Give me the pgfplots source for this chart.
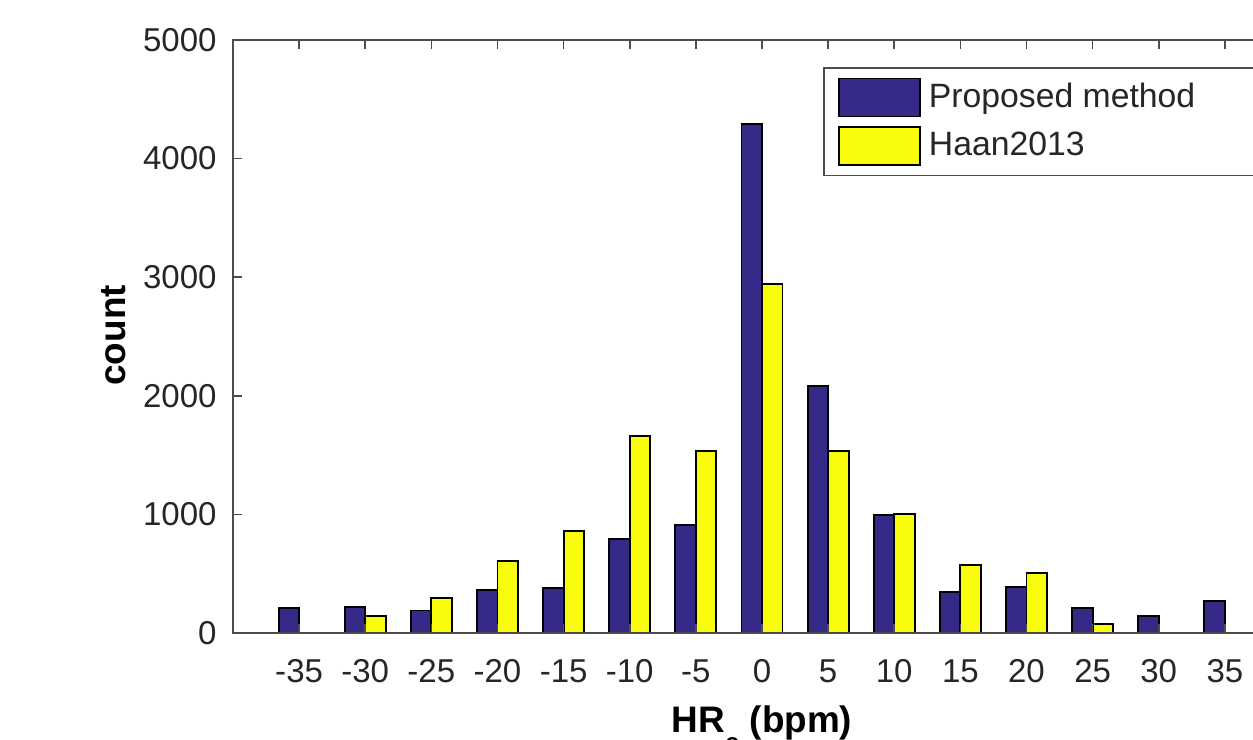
\documentclass[border=0pt]{standalone}
\usepackage{pgfplots}
\pgfplotsset{compat=1.18}
\usepackage{fontspec}
\setmainfont{Liberation Sans}
\definecolor{pblue}{HTML}{352A87}
\definecolor{pyellow}{HTML}{F9FB0E}
\definecolor{axgray}{gray}{0.3}
\definecolor{txgray}{gray}{0.15}
\begin{document}
\begin{tikzpicture}
\useasboundingbox (0,0) rectangle (12.53,7.40);
\clip (0,0) rectangle (12.53,7.40);
\begin{axis}[
  at={(2.33cm,1.07cm)}, anchor=south west,
  width=10.58cm, height=5.93cm, scale only axis,
  xmin=-40, xmax=40, ymin=0, ymax=5000,
  ybar, bar width=1.55,
  axis on top,
  tick align=inside,
  major tick length=0.09cm,
  axis line style={axgray, line width=0.45pt},
  every tick/.style={axgray, line width=0.45pt},
  xtick={-35,-30,-25,-20,-15,-10,-5,0,5,10,15,20,25,30,35},
  xticklabels={{-35},{-30},{-25},{-20},{-15},{-10},{-5},{0},{5},{10},{15},{20},{25},{30},{35}},
  ytick={0,1000,2000,3000,4000,5000},
  scaled y ticks=false,
  /pgf/number format/assume math mode=true,
  /pgf/number format/1000 sep={},
  tick label style={font=\fontsize{9.4}{11}\selectfont, text=txgray},
  xticklabel style={yshift=-0.14cm},
  yticklabel style={xshift=-0.04cm},
  every axis y label/.style={at={(axis description cs:-0.1125,0.502)}, rotate=90, anchor=center, font=\fontsize{10.5}{12}\selectfont\bfseries},
  every axis x label/.style={at={(axis description cs:0.5,-0.1686)}, anchor=base, font=\fontsize{10.5}{12}\selectfont\bfseries},
  xlabel={HR\raisebox{-0.19cm}{\fontsize{7.4}{8}\selectfont e} (bpm)},
  ylabel={count},
  legend cell align=left,
  legend image code/.code={\draw[#1] (0cm,-0.19cm) rectangle (0.81cm,0.19cm);},
  legend style={at={(axis description cs:0.558,0.954)}, anchor=north west,
    draw=axgray, line width=0.45pt, inner xsep=0.14cm, inner ysep=0.095cm,
    row sep=0.09cm, column sep=0.08cm,
    nodes={inner sep=0pt},
    font=\fontsize{9.6}{11}\selectfont, text=txgray},
]
\addplot[fill=pblue, draw=black, line width=0.5pt, bar shift=-0.775] coordinates {
(-35,210) (-30,220) (-25,190) (-20,360) (-15,380) (-10,790) (-5,908) (0,4292)
(5,2085) (10,992) (15,348) (20,390) (25,208) (30,146) (35,272)};
\addlegendentry{\makebox[3.6cm][l]{Proposed method}}
\addplot[fill=pyellow, draw=black, line width=0.5pt, bar shift=0.775] coordinates {
(-30,146) (-25,292) (-20,607) (-15,863) (-10,1664) (-5,1537) (0,2945)
(5,1537) (10,1006) (15,573) (20,503) (25,73)};
\addlegendentry{\makebox[3.6cm][l]{Haan2013}}
\end{axis}
\end{tikzpicture}
\end{document}
